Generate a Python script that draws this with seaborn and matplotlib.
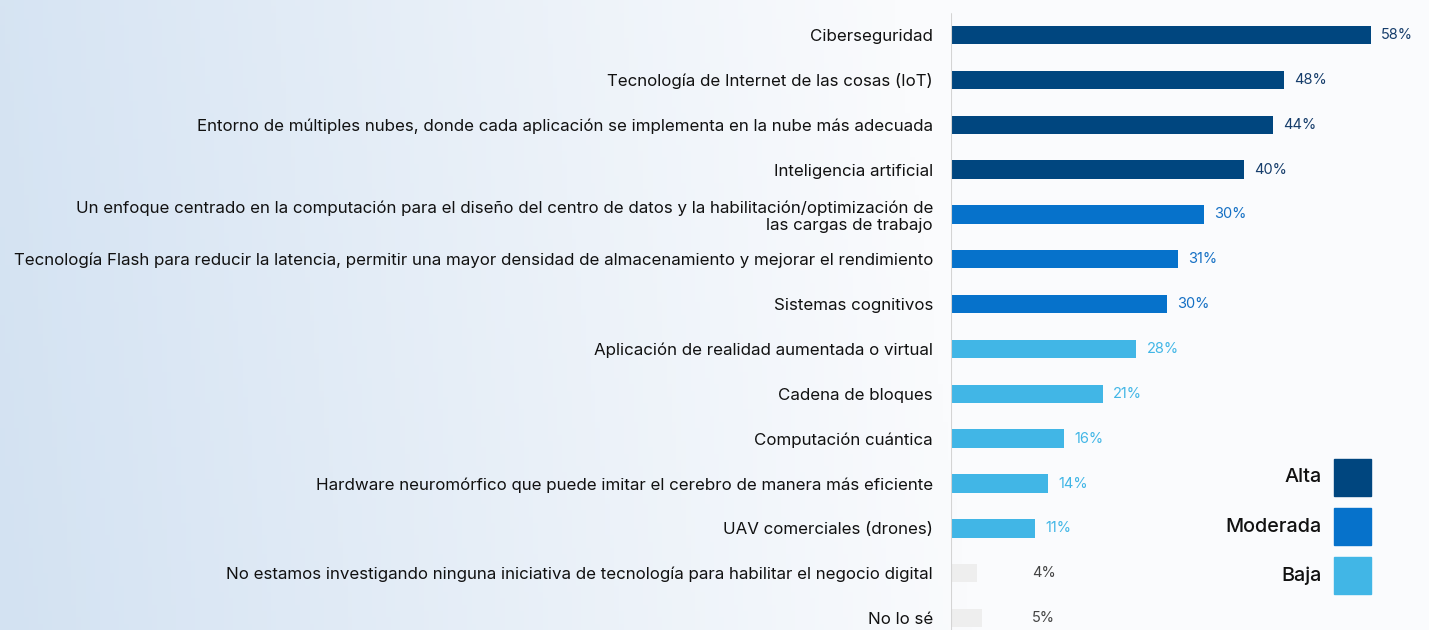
import numpy as np
import pandas as pd
import matplotlib
matplotlib.use('Agg')
import matplotlib.pyplot as plt
import seaborn as sns
from matplotlib.patches import Rectangle

# data
categories = [
    "Ciberseguridad",
    "Tecnología de Internet de las cosas (IoT)",
    "Entorno de múltiples nubes, donde cada aplicación se implementa en la nube más adecuada",
    "Inteligencia artificial",
    "Un enfoque centrado en la computación para el diseño del centro de datos y la habilitación/optimización de\nlas cargas de trabajo",
    "Tecnología Flash para reducir la latencia, permitir una mayor densidad de almacenamiento y mejorar el rendimiento",
    "Sistemas cognitivos",
    "Aplicación de realidad aumentada o virtual",
    "Cadena de bloques",
    "Computación cuántica",
    "Hardware neuromórfico que puede imitar el cerebro de manera más eficiente",
    "UAV comerciales (drones)",
    "No estamos investigando ninguna iniciativa de tecnología para habilitar el negocio digital",
    "No lo sé",
]
bar_values = [58, 46, 44.5, 40.5, 35, 31.4, 29.8, 25.6, 21, 15.6, 13.4, 11.6, 3.6, 4.3]
value_labels = ["58%", "48%", "44%", "40%", "30%", "31%", "30%", "28%", "21%", "16%", "14%", "11%", "4%", "5%"]
priority = ["Alta"] * 4 + ["Moderada"] * 3 + ["Baja"] * 5 + ["Ninguna"] * 2

legend_labels = ["Alta", "Moderada", "Baja"]
bar_colors = {"Alta": "#00467f", "Moderada": "#0672cb", "Baja": "#41b6e6", "Ninguna": "#eeeeee"}
text_colors = {"Alta": "#163d6b", "Moderada": "#1570c4", "Baja": "#41b6e6", "Ninguna": "#444444"}

df = pd.DataFrame({"categoria": categories, "valor": bar_values, "prioridad": priority})

sns.set_theme(style="white")
plt.rcParams['font.family'] = ['Inter', 'DejaVu Sans']

W, H = 1429, 630
fig = plt.figure(figsize=(W / 100, H / 100), dpi=100)

# background gradient (light blue on the left fading to near white)
bg = fig.add_axes([0, 0, 1, 1], zorder=-10)
gx = np.linspace(0, 1, 300)
gy = np.linspace(0, 1, 100)
GX, GY = np.meshgrid(gx, gy)
t = np.clip(GX / 0.68 + (1 - GY) * 0.08, 0, 1)
left = np.array([211, 226, 242]) / 255
right = np.array([250, 251, 253]) / 255
img = left[None, None, :] * (1 - t[..., None]) + right[None, None, :] * t[..., None]
bg.imshow(img, aspect='auto', extent=[0, 1, 0, 1], origin='upper')
bg.axis('off')

ax_left = 951 / W
ax = fig.add_axes([ax_left, 0, 1 - ax_left, 1])
ax.set_facecolor('none')

sns.barplot(data=df, x="valor", y="categoria", hue="prioridad", palette=bar_colors,
            dodge=False, legend=False, width=0.41, ax=ax, saturation=1,
            edgecolor="none")

px_per_unit = 420 / 58
ax.set_xlim(0, (W - 951) / px_per_unit)
ax.set_ylim((H - 35) / 44.85, -35 / 44.85)

for i, (v, lab, p) in enumerate(zip(bar_values, value_labels, priority)):
    if p == "Ninguna":
        ax.text(11.2, i, lab, ha='left', va='center', fontsize=10.5, color=text_colors[p])
    else:
        ax.annotate(lab, (v, i), xytext=(10, 0), textcoords='offset pixels',
                    ha='left', va='center', fontsize=10.5, color=text_colors[p])

ax.axvline(0, ymin=0, ymax=1 - 14 / H, color='#d4d4d4', lw=1.5)
ax.set_xlabel("")
ax.set_ylabel("")
ax.set_xticks([])
ax.tick_params(axis='y', length=0, pad=13, labelsize=12.2, labelcolor='#111111')
for lbl in ax.get_yticklabels():
    lbl.set_linespacing(1.15)
for s in ax.spines.values():
    s.set_visible(False)

# legend: label text to the left of a big square
sq = 37
for k, name in enumerate(legend_labels):
    y_top = 459 + k * 49
    fig.patches.append(Rectangle((1334 / W, 1 - (y_top + sq) / H), sq / W, sq / H,
                                 transform=fig.transFigure, color=bar_colors[name]))
    fig.text(1322 / W, 1 - (y_top + sq / 2) / H, name, ha='right', va='center',
             fontsize=14.3, fontweight='medium', color='#111111')

plt.savefig('out.png', dpi=100)
plt.close()
